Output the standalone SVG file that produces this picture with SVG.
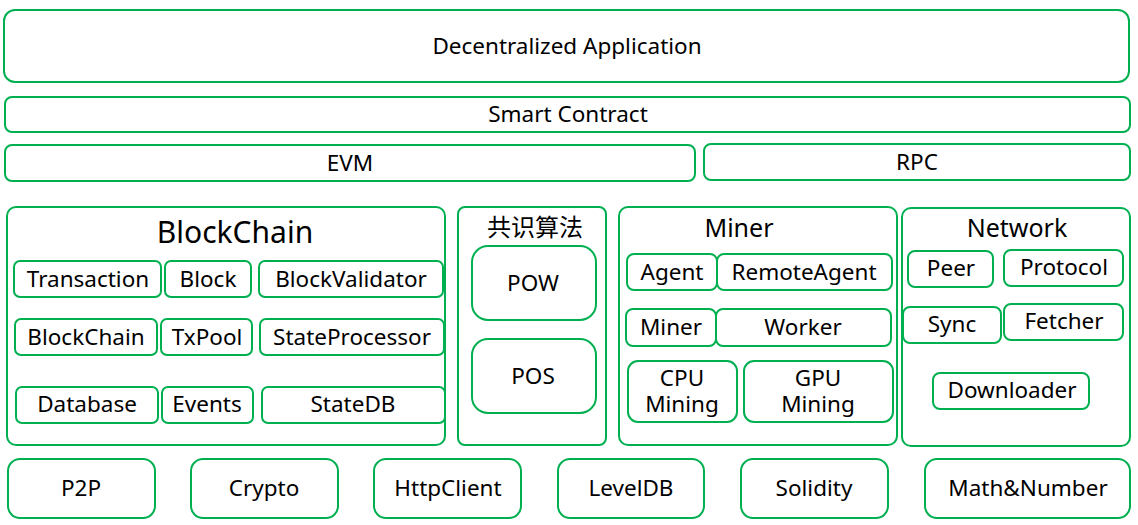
<svg xmlns="http://www.w3.org/2000/svg" width="1138" height="525" viewBox="0 0 1138 525">
<style>
rect{fill:#fff;stroke:#00B050;stroke-width:2}
text{font-family:"Noto Sans","Noto Sans CJK SC",sans-serif;font-size:22.5px;fill:#000;text-anchor:middle}
.t25{font-size:25px}
.t30{font-size:30px}
.cjk{font-family:"Noto Sans CJK SC","Noto Sans",sans-serif;font-size:24px}
</style>
<rect x="0" y="0" width="1138" height="525" style="fill:#fff;stroke:none"/>
<g id="dapp"><rect x="4" y="10" width="1125" height="72" rx="11"/><text x="567" y="54">Decentralized Application</text></g>
<g id="smart-contract"><rect x="5" y="97" width="1125" height="35" rx="7"/><text x="568" y="122">Smart Contract</text></g>
<g id="evm"><rect x="5" y="145" width="690" height="36" rx="7"/><text x="350" y="171">EVM</text></g>
<g id="rpc"><rect x="704" y="144" width="426" height="36" rx="7"/><text x="917" y="170">RPC</text></g>

<g id="blockchain">
<rect x="7" y="207" width="438" height="238" rx="9"/>
<text class="t30" x="235" y="243">BlockChain</text>
<g id="transaction"><rect x="14" y="261" width="147" height="36" rx="6"/><text x="88" y="287">Transaction</text></g>
<g id="block"><rect x="165" y="261" width="86" height="36" rx="6"/><text x="208" y="287">Block</text></g>
<g id="blockvalidator"><rect x="259" y="261" width="184" height="36" rx="6"/><text x="351" y="287">BlockValidator</text></g>
<g id="blockchain-sub"><rect x="15" y="319" width="142" height="36" rx="6"/><text x="86" y="345">BlockChain</text></g>
<g id="txpool"><rect x="161" y="319" width="91" height="36" rx="6"/><text x="207" y="345">TxPool</text></g>
<g id="stateprocessor"><rect x="260" y="319" width="184" height="36" rx="6"/><text x="352" y="345">StateProcessor</text></g>
<g id="database"><rect x="16" y="387" width="142" height="36" rx="6"/><text x="87" y="412">Database</text></g>
<g id="events"><rect x="162" y="387" width="91" height="36" rx="6"/><text x="207" y="412">Events</text></g>
<g id="statedb"><rect x="262" y="387" width="183" height="36" rx="6"/><text x="353" y="412">StateDB</text></g>
</g>

<g id="consensus">
<rect x="458" y="207" width="148" height="238" rx="7"/>
<text class="cjk" x="535" y="236">共识算法</text>
<g id="pow"><rect x="472" y="246" width="124" height="74" rx="16"/><text x="533" y="291">POW</text></g>
<g id="pos"><rect x="472" y="339" width="124" height="74" rx="16"/><text x="533" y="384">POS</text></g>
</g>

<g id="miner">
<rect x="619" y="207" width="278" height="238" rx="9"/>
<text class="t25" x="739" y="237">Miner</text>
<g id="agent"><rect x="627" y="254" width="90" height="36" rx="7"/><text x="672" y="280">Agent</text></g>
<g id="remoteagent"><rect x="717" y="254" width="175" height="36" rx="7"/><text x="804" y="280">RemoteAgent</text></g>
<g id="miner-sub"><rect x="626" y="309" width="90" height="37" rx="7"/><text x="671" y="335">Miner</text></g>
<g id="worker"><rect x="716" y="309" width="175" height="37" rx="7"/><text x="803" y="335">Worker</text></g>
<g id="cpu"><rect x="628" y="361" width="109" height="61" rx="10"/><text x="682" y="386">CPU</text><text x="682" y="412">Mining</text></g>
<g id="gpu"><rect x="744" y="361" width="149" height="61" rx="10"/><text x="818" y="386">GPU</text><text x="818" y="412">Mining</text></g>
</g>

<g id="network">
<rect x="902" y="208" width="228" height="238" rx="9"/>
<text class="t25" x="1017" y="237">Network</text>
<g id="peer"><rect x="908" y="251" width="85" height="36" rx="7"/><text x="951" y="276">Peer</text></g>
<g id="protocol"><rect x="1004" y="250" width="119" height="36" rx="7"/><text x="1064" y="275">Protocol</text></g>
<g id="sync"><rect x="903" y="307" width="98" height="36" rx="7"/><text x="952" y="332">Sync</text></g>
<g id="fetcher"><rect x="1004" y="304" width="119" height="36" rx="7"/><text x="1064" y="329">Fetcher</text></g>
<g id="downloader"><rect x="933" y="373" width="156" height="36" rx="7"/><text x="1012" y="398">Downloader</text></g>
</g>

<g id="p2p"><rect x="8" y="459" width="147" height="59" rx="12"/><text x="81" y="496">P2P</text></g>
<g id="crypto"><rect x="191" y="459" width="147" height="59" rx="12"/><text x="264" y="496">Crypto</text></g>
<g id="httpclient"><rect x="374" y="459" width="147" height="59" rx="12"/><text x="448" y="496">HttpClient</text></g>
<g id="leveldb"><rect x="558" y="459" width="146" height="59" rx="12"/><text x="631" y="496">LevelDB</text></g>
<g id="solidity"><rect x="741" y="459" width="147" height="59" rx="12"/><text x="814" y="496">Solidity</text></g>
<g id="math"><rect x="925" y="459" width="205" height="59" rx="12"/><text x="1028" y="496">Math&amp;Number</text></g>
<g id="connectors"></g>
</svg>
